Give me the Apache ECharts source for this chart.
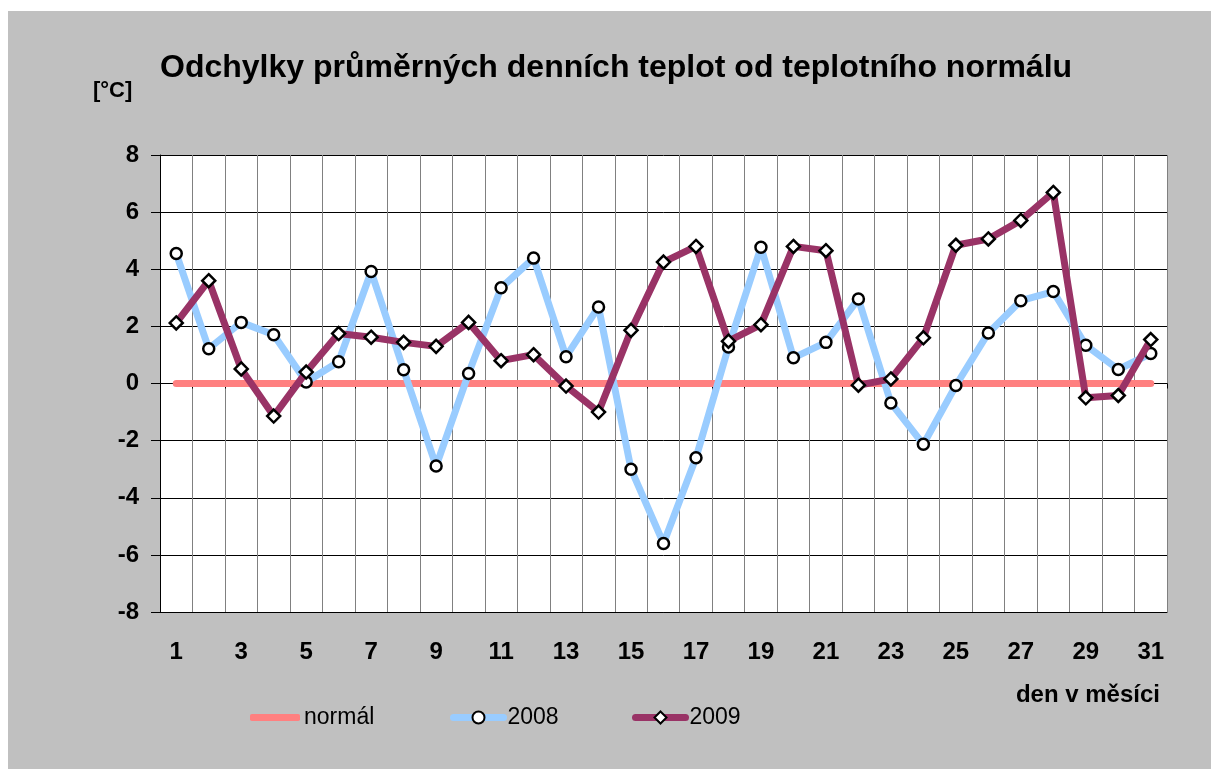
<!DOCTYPE html>
<html>
<head>
<meta charset="utf-8">
<script src="https://cdn.jsdelivr.net/npm/echarts@6/dist/echarts.min.js"></script>
<style>
html,body{margin:0;padding:0;background:#fff;}
#bg{position:absolute;left:8px;top:11px;right:0;bottom:0;background:#C0C0C0;}
#chart{position:absolute;left:0;top:0;width:1211px;height:769px;}
</style>
</head>
<body>
<div id="bg"></div>
<div id="chart"></div>
<script>
const days = ['1','2','3','4','5','6','7','8','9','10','11','12','13','14','15','16','17','18','19','20','21','22','23','24','25','26','27','28','29','30','31'];
const normal = [0,0,0,0,0,0,0,0,0,0,0,0,0,0,0,0,0,0,0,0,0,0,0,0,0,0,0,0,0,0,0];
const y2008 = [4.55,1.22,2.14,1.71,0.05,0.76,3.92,0.48,-2.89,0.35,3.35,4.39,0.94,2.68,-3.0,-5.6,-2.6,1.28,4.77,0.9,1.44,2.96,-0.68,-2.13,-0.07,1.77,2.9,3.22,1.34,0.49,1.05];
const y2009 = [2.12,3.6,0.51,-1.14,0.4,1.75,1.62,1.44,1.3,2.14,0.8,1.01,-0.09,-1.0,1.86,4.25,4.8,1.48,2.06,4.8,4.65,-0.06,0.16,1.6,4.84,5.06,5.71,6.69,-0.5,-0.42,1.54];
const yTicks = [-8,-6,-4,-2,0,2,4,6,8];

const FONT = 'Liberation Sans, Arial, sans-serif';
const chart = echarts.init(document.getElementById('chart'), null, {renderer:'canvas'});
const legendText = {fontFamily: FONT, fontSize: 23, color: '#000', padding: [0,0,0,-1]};
const legendBase = {top: 706, padding: 0, itemWidth: 50, itemHeight: 15, itemGap: 0, textStyle: legendText,
  lineStyle: {width: 7, cap: 'round'}};
chart.setOption({
  backgroundColor: 'transparent',
  animation: false,
  textStyle: {fontFamily: FONT},
  title: {
    text: 'Odchylky průměrných denních teplot od teplotního normálu',
    left: 155, top: 47,
    textStyle: {fontFamily: FONT, fontSize: 32, fontWeight: 'bold', color: '#000'}
  },
  legend: [
    Object.assign({}, legendBase, {data: [{name: 'normál', icon: 'roundRect', itemStyle: {color: '#FF8080'}}], left: 250, itemHeight: 7}),
    Object.assign({}, legendBase, {data: ['2008'], left: 450}),
    Object.assign({}, legendBase, {data: ['2009'], left: 632})
  ],
  grid: {left: 160, right: 44, top: 155, bottom: 157, show: true, backgroundColor: '#fff', borderWidth: 0},
  xAxis: [
    {
      type: 'category', data: days, boundaryGap: true, position: 'bottom',
      axisLine: {onZero: false, show: true, lineStyle: {color: '#000', width: 1}},
      axisTick: {show: false},
      axisLabel: {interval: 1, margin: 28, fontFamily: FONT, fontSize: 24, fontWeight: 'bold', color: '#000'},
      splitLine: {show: true, interval: 0, lineStyle: {color: '#808080', width: 1}}
    },
    {
      type: 'category', data: days, boundaryGap: true, position: 'top',
      axisLine: {onZero: true, show: true, lineStyle: {color: '#000', width: 1}},
      axisTick: {show: true, inside: true, length: 5, interval: 0, lineStyle: {color: '#000'}},
      axisLabel: {show: false},
      splitLine: {show: false}
    }
  ],
  yAxis: {
    type: 'value', min: -8, max: 8, interval: 2,
    axisLine: {show: true, lineStyle: {color: '#000', width: 1}},
    axisTick: {show: true, length: 9, lineStyle: {color: '#000'}},
    axisLabel: {margin: 21, fontFamily: FONT, fontSize: 24, fontWeight: 'bold', color: '#000',
      formatter: v => yTicks.includes(v) ? String(v) : ''},
    splitLine: {show: true, lineStyle: {color: '#000', width: 1}}
  },
  series: [
    {name: 'normál', type: 'line', data: normal, xAxisIndex: 0, showSymbol: false, symbol: 'none',
      lineStyle: {color: '#FF8080', width: 7, cap: 'round'}, itemStyle: {color: '#FF8080'}, z: 3},
    {name: '2008', type: 'line', data: y2008, xAxisIndex: 0, symbol: 'circle', symbolSize: 11,
      lineStyle: {color: '#99CCFF', width: 7, join: 'round'},
      itemStyle: {color: '#fff', borderColor: '#000', borderWidth: 2.5}, z: 4},
    {name: '2009', type: 'line', data: y2009, xAxisIndex: 0, symbol: 'diamond', symbolSize: 13,
      lineStyle: {color: '#993366', width: 7, join: 'round'},
      itemStyle: {color: '#fff', borderColor: '#000', borderWidth: 2.5}, z: 5}
  ],
  graphic: [
    {type: 'text', left: 93, top: 80, style: {text: '[°C]', font: 'bold 22px ' + FONT, fill: '#000'}},
    {type: 'text', right: 51, top: 683, style: {text: 'den v měsíci', font: 'bold 24px ' + FONT, fill: '#000'}}
  ]
});
</script>
</body>
</html>
